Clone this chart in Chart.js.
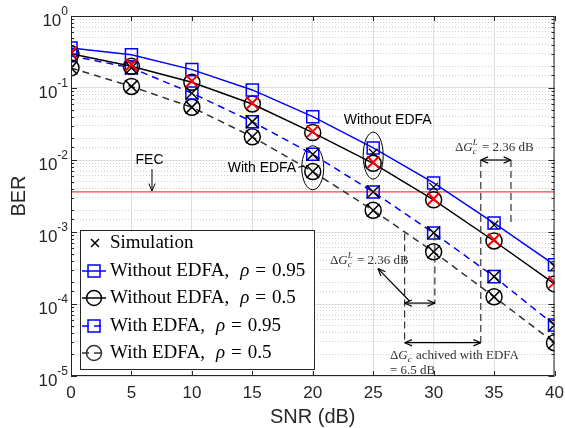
<!DOCTYPE html>
<html>
<head>
<meta charset="utf-8">
<script src="https://cdn.jsdelivr.net/npm/chart.js@4"></script>
<style>
  html, body { margin: 0; padding: 0; background: #fff; }
  #wrap { width: 565px; height: 428px; }
</style>
</head>
<body>
<div id="wrap"><canvas id="graph" width="565" height="428"></canvas></div>
<script>
const snr = [0, 5, 10, 15, 20, 25, 30, 35, 40];
const xTicks = [0, 5, 10, 15, 20, 25, 30, 35, 40];
const yDecades = [0, -1, -2, -3, -4, -5];

// analytical curves
const noEdfa95 = [0.36, 0.29, 0.18, 0.094, 0.040, 0.0147, 0.0048, 0.00133, 0.00035];
const noEdfa05 = [0.30, 0.20, 0.12, 0.060, 0.024, 0.0090, 0.0028, 0.00075, 0.00019];
const edfa95 = [0.28, 0.19, 0.085, 0.034, 0.012, 0.0036, 0.00097, 0.00024, 0.000051];
const edfa05 = [0.19, 0.105, 0.054, 0.021, 0.0069, 0.0020, 0.00053, 0.000126, 0.000029];

// simulation points
const simNoEdfa95 = [null, null, null, null, null, 0.0125, 0.0042, 0.00125, 0.00033];
const simNoEdfa05 = [0.31, 0.21, 0.125, 0.062, 0.025, 0.0093, 0.0029, 0.00078, 0.0002];
const simEdfa95 = [0.30, 0.19, 0.085, 0.034, 0.012, 0.0036, 0.00097, 0.00024, 0.000051];
const simEdfa05 = [0.19, 0.105, 0.054, 0.021, 0.0069, 0.0020, 0.00053, 0.000126, 0.000029];

const fecLevel = 0.0036;

const pts = arr => snr.map((x, i) => ({ x, y: arr[i] })).filter(p => p.y !== null);

function curve(label, arr, color, style, dashed) {
  return {
    label, data: pts(arr), borderColor: color, backgroundColor: "transparent",
    pointBorderColor: dashed && style === "circle" ? "#000" : color,
    borderWidth: 1.5, borderDash: dashed ? [7, 5] : [],
    pointStyle: style, pointRadius: style === "rect" ? 8.5 : 8,
    pointBorderWidth: 1.5, showLine: true, tension: 0, order: 5
  };
}
function sim(arr, color, r, w) {
  return {
    label: "Simulation", data: pts(arr), borderColor: color, backgroundColor: color,
    pointStyle: "crossRot", pointRadius: r, pointBorderWidth: w, showLine: false, order: 1
  };
}

const datasets = [
  curve("Without EDFA, ρ = 0.95", noEdfa95, "#0000ff", "rect", false),
  curve("Without EDFA, ρ = 0.5", noEdfa05, "#000000", "circle", false),
  curve("With EDFA, ρ = 0.95", edfa95, "#0000ff", "rect", true),
  curve("With EDFA, ρ = 0.5", edfa05, "#333333", "circle", true),
  sim(simNoEdfa95, "#000000", 6, 1.2),
  sim(simNoEdfa05, "#ff0000", 8.5, 2),
  sim(simEdfa95, "#000000", 9, 1.5),
  sim(simEdfa05, "#000000", 9, 1.5)
];

const isDecade = v => Math.abs(Math.log10(v) - Math.round(Math.log10(v))) < 1e-6;

function arrowHead(ctx, x1, y1, x2, y2, size) {
  const a = Math.atan2(y2 - y1, x2 - x1);
  ctx.beginPath();
  ctx.moveTo(x2, y2);
  ctx.lineTo(x2 - size * Math.cos(a - 0.4), y2 - size * Math.sin(a - 0.4));
  ctx.moveTo(x2, y2);
  ctx.lineTo(x2 - size * Math.cos(a + 0.4), y2 - size * Math.sin(a + 0.4));
  ctx.stroke();
}
function arrow(ctx, x1, y1, x2, y2, both) {
  ctx.beginPath(); ctx.moveTo(x1, y1); ctx.lineTo(x2, y2); ctx.stroke();
  arrowHead(ctx, x1, y1, x2, y2, 8);
  if (both) arrowHead(ctx, x2, y2, x1, y1, 8);
}
// draw a run of text parts [text, font, dy, gapAfter]
function parts(ctx, list, x, y) {
  list.forEach(([t, f, dy, gap]) => {
    ctx.font = f;
    ctx.fillText(t, x, y + (dy || 0));
    x += ctx.measureText(t).width + (gap || 0);
  });
  return x;
}

const decor = {
  id: "decor",
  beforeDatasetsDraw(chart) {
    const { ctx, chartArea: a, scales: { x, y } } = chart;
    ctx.save();
    // FEC line
    ctx.strokeStyle = "#ff4040"; ctx.lineWidth = 1.2;
    ctx.beginPath(); ctx.moveTo(a.left, y.getPixelForValue(fecLevel));
    ctx.lineTo(a.right, y.getPixelForValue(fecLevel)); ctx.stroke();
    ctx.restore();
  },
  afterDraw(chart) {
    const { ctx, chartArea: a, scales: { x, y } } = chart;
    const X = v => x.getPixelForValue(v), Y = v => y.getPixelForValue(v);
    ctx.save();
    // box and inward ticks
    ctx.strokeStyle = "#262626"; ctx.lineWidth = 1;
    ctx.strokeRect(a.left + 0.5, a.top + 0.5, a.width - 1, a.height - 1);
    ctx.beginPath();
    xTicks.forEach(v => {
      const px = Math.round(X(v)) + 0.5;
      ctx.moveTo(px, a.bottom); ctx.lineTo(px, a.bottom - 5);
      ctx.moveTo(px, a.top); ctx.lineTo(px, a.top + 5);
    });
    y.ticks.forEach(t => {
      const py = Math.round(Y(t.value)) + 0.5;
      const len = isDecade(t.value) ? 6 : 3;
      ctx.moveTo(a.left, py); ctx.lineTo(a.left + len, py);
      ctx.moveTo(a.right, py); ctx.lineTo(a.right - len, py);
    });
    ctx.stroke();

    // tick labels
    ctx.fillStyle = "#262626";
    ctx.textBaseline = "middle";
    ctx.textAlign = "center";
    ctx.font = "17px 'Liberation Sans', Arial, sans-serif";
    xTicks.forEach(v => ctx.fillText(String(v), X(v), a.bottom + 17));
    yDecades.forEach(d => {
      const py = Y(Math.pow(10, d));
      ctx.textAlign = "left";
      ctx.font = "12px 'Liberation Sans', Arial, sans-serif";
      const ew = ctx.measureText(d === 0 ? "0" : "-" + (-d)).width;
      ctx.font = "17px 'Liberation Sans', Arial, sans-serif";
      const bw = ctx.measureText("10").width;
      const x0 = a.left - 3 - ew - bw;
      ctx.fillText("10", x0, py + 5);
      ctx.font = "12px 'Liberation Sans', Arial, sans-serif";
      ctx.fillText(d === 0 ? "0" : "-" + (-d), x0 + bw, py - 4);
    });
    ctx.textAlign = "center";
    ctx.font = "20px 'Liberation Sans', Arial, sans-serif";
    ctx.fillText("SNR (dB)", (a.left + a.right) / 2, 417);
    ctx.save();
    ctx.translate(19, (a.top + a.bottom) / 2);
    ctx.rotate(-Math.PI / 2);
    ctx.fillText("BER", 0, 0);
    ctx.restore();

    // text annotations
    ctx.fillStyle = "#000"; ctx.strokeStyle = "#000"; ctx.lineWidth = 1;
    ctx.font = "14px 'Liberation Sans', Arial, sans-serif";
    ctx.fillText("FEC", X(6.5), Y(0.0100));
    arrow(ctx, X(6.7), Y(0.0075), X(6.7), Y(fecLevel) - 1, false);
    ctx.fillText("With EDFA", X(15.8), Y(0.0078));
    ctx.fillText("Without EDFA", X(26.2), Y(0.036));
    ctx.beginPath(); ctx.moveTo(X(18.8), Y(0.0079)); ctx.lineTo(X(19.3), Y(0.0083)); ctx.stroke();
    ctx.beginPath();
    ctx.ellipse(X(20), Y(0.0078), 11, 22, 0, 0, 2 * Math.PI);
    ctx.moveTo(X(25) + 10, Y(0.0115));
    ctx.ellipse(X(25), Y(0.0115), 10, 23.5, 0, 0, 2 * Math.PI);
    ctx.stroke();

    // dashed guides
    ctx.strokeStyle = "#333"; ctx.lineWidth = 1.2; ctx.setLineDash([7, 4]);
    const vline = (sx, b1, b2) => {
      ctx.beginPath(); ctx.moveTo(X(sx), Y(b1)); ctx.lineTo(X(sx), Y(b2)); ctx.stroke();
    };
    vline(33.9, 0.01, 2.9e-5);
    vline(36.4, 0.01, 1.33e-3);
    vline(27.6, 9.5e-4, 2.9e-5);
    vline(30.1, 9.5e-4, 1.0e-4);
    ctx.setLineDash([]);
    ctx.strokeStyle = "#000"; ctx.lineWidth = 1.2;
    arrow(ctx, X(33.9), Y(0.01), X(36.4), Y(0.01), true);
    arrow(ctx, X(27.6), Y(1.03e-4), X(30.1), Y(1.03e-4), true);
    arrow(ctx, X(27.6), Y(2.9e-5), X(33.9), Y(2.9e-5), true);
    arrow(ctx, X(28.0), Y(1.1e-4), X(25.4), Y(3.1e-4), false);

    ctx.fillStyle = "#333"; ctx.textAlign = "left"; ctx.textBaseline = "alphabetic";
    const serif = "13px 'Liberation Serif', 'Times New Roman', serif";
    const iserif = "italic 13px 'Liberation Serif', 'Times New Roman', serif";
    const ismall = "italic 9px 'Liberation Serif', serif";
    const gLabel = (x0, y0) => {
      let xx = parts(ctx, [["Δ", serif], ["G", iserif]], x0, y0);
      parts(ctx, [["L", ismall, -6]], xx, y0);
      xx = parts(ctx, [["c", ismall, 3]], xx, y0) + 2;
      parts(ctx, [[" = 2.36 dB", serif]], xx, y0);
    };
    gLabel(455, 151);
    gLabel(330, 264);
    let xx = parts(ctx, [["Δ", serif], ["G", iserif], ["c", ismall, 3]], 390, 359);
    parts(ctx, [[" achived with EDFA", serif]], xx + 1, 359);
    parts(ctx, [["= 6.5 dB", serif]], 390, 374);

    // legend
    const lx = 80, ly = 230, lw = 234, lh = 139;
    ctx.fillStyle = "#fff"; ctx.fillRect(lx, ly, lw, lh);
    ctx.strokeStyle = "#262626"; ctx.lineWidth = 1;
    ctx.strokeRect(lx + 0.5, ly + 0.5, lw, lh);
    const rows = [243, 271, 298, 326, 353];
    const lf = "19px 'Liberation Serif', 'Times New Roman', serif";
    const lif = "italic 19px 'Liberation Serif', 'Times New Roman', serif";
    ctx.fillStyle = "#000"; ctx.textBaseline = "middle";
    // simulation marker
    ctx.strokeStyle = "#000"; ctx.lineWidth = 1.5;
    ctx.beginPath();
    ctx.moveTo(91, rows[0] - 4); ctx.lineTo(99, rows[0] + 4);
    ctx.moveTo(99, rows[0] - 4); ctx.lineTo(91, rows[0] + 4);
    ctx.stroke();
    parts(ctx, [["Simulation", lf]], 110, rows[0]);
    const items = [
      ["Without EDFA,", "0.95", "#0000ff", "rect", false],
      ["Without EDFA,", "0.5", "#000", "circle", false],
      ["With EDFA,", "0.95", "#0000ff", "rect", true],
      ["With EDFA,", "0.5", "#333", "circle", true]
    ];
    items.forEach(([a1, a2, c, s, dashed], i) => {
      const ry = rows[i + 1];
      ctx.strokeStyle = c; ctx.lineWidth = 1.5;
      ctx.setLineDash(dashed ? [7, 5] : []);
      ctx.beginPath();
      ctx.moveTo(82, ry); ctx.lineTo(106, ry); ctx.stroke();
      ctx.setLineDash([]);
      ctx.beginPath();
      if (s === "rect") ctx.rect(88, ry - 6, 12, 12);
      else ctx.arc(94, ry, 7.5, 0, 2 * Math.PI);
      ctx.stroke();
      parts(ctx, [[a1, lf, 0, 11], ["ρ", lif, 0, 6], ["=", lf, 0, 6], [a2, lf]], 110, ry);
    });
    ctx.restore();
  }
};

new Chart(document.getElementById("graph").getContext("2d"), {
  type: "line",
  data: { datasets },
  options: {
    responsive: false,
    animation: false,
    layout: { padding: { left: 71, top: 16, right: 10, bottom: 52 } },
    plugins: { legend: { display: false }, tooltip: { enabled: false } },
    scales: {
      x: {
        type: "linear", min: 0, max: 40,
        ticks: { display: false, stepSize: 5 },
        grid: { color: "#dedede", lineWidth: 1, drawTicks: false },
        border: { display: false }
      },
      y: {
        type: "logarithmic", min: 1e-5, max: 1,
        ticks: { display: false },
        grid: {
          drawTicks: false,
          color: c => isDecade(c.tick.value) ? "#dedede" : "#cfcfcf",
          lineWidth: 1
        },
        border: { display: false, dash: c => isDecade(c.tick.value) ? [] : [1, 2] }
      }
    }
  },
  plugins: [decor]
});
</script>
</body>
</html>
